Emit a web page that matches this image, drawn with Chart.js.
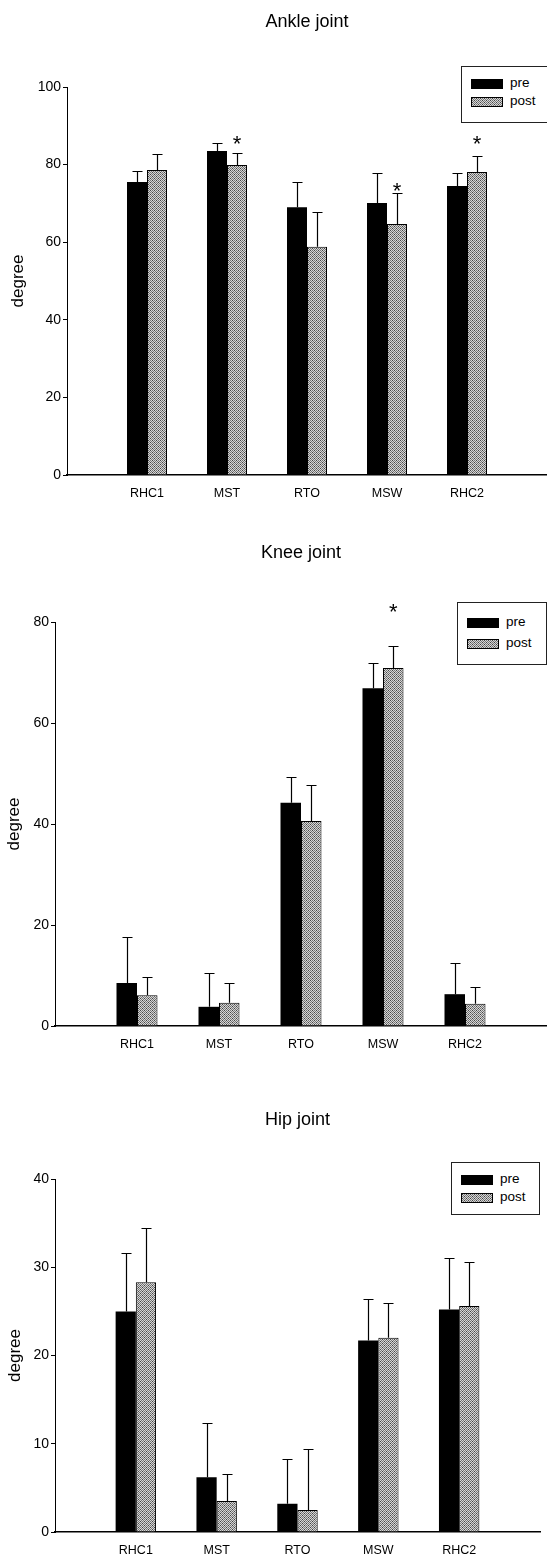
<!DOCTYPE html>
<html lang="en">
<head>
<meta charset="UTF-8">
<title>Ankle, knee and hip joint angles</title>
<script src="https://cdn.jsdelivr.net/npm/chart.js@4.4.0/dist/chart.umd.min.js"></script>
<style>
  body { margin: 0; background: #fff; font-family: "Liberation Sans", Arial, sans-serif; }
  #page { position: relative; width: 547px; height: 1555px; overflow: hidden; }
  .panel { position: absolute; left: 0; width: 547px; }
  .legend { position: absolute; border: 1px solid #222; background: #fff; color: #000; font-size: 13.5px; }
  .legend .sw { position: absolute; left: 9px; width: 32px; height: 10px; box-sizing: border-box; }
  .legend .lb { position: absolute; left: 48px; line-height: 14px; }
</style>
</head>
<body>
<div id="page">
  <div class="panel" style="top:0;height:510px"><canvas id="ankle" width="547" height="510"></canvas></div>
  <div class="panel" style="top:510px;height:555px"><canvas id="knee" width="547" height="555"></canvas></div>
  <div class="panel" style="top:1065px;height:490px"><canvas id="hip" width="547" height="490"></canvas></div>
</div>

<script>
// ---- data ----
const categories = ['RHC1', 'MST', 'RTO', 'MSW', 'RHC2'];
const seriesNames = ['pre', 'post'];

const anklePre = [75.5, 83.5, 69.0, 70.1, 74.5];
const anklePreSD = [2.8, 2.1, 6.5, 7.7, 3.3];
const anklePost = [78.6, 79.9, 58.8, 64.7, 78.1];
const anklePostSD = [4.1, 3.1, 9.0, 8.0, 4.1];
const ankleStars = [null, 86.3, null, 74.2, 86.3];   // asterisks over post bars
const ankleTicks = [0, 20, 40, 60, 80, 100];

const kneePre = [8.5, 3.8, 44.2, 66.9, 6.3];
const kneePreSD = [9.1, 6.7, 5.1, 5.0, 6.2];
const kneePost = [6.1, 4.6, 40.6, 70.9, 4.4];
const kneePostSD = [3.6, 3.9, 7.1, 4.3, 3.3];
const kneeStars = [null, null, null, 82.8, null];
const kneeTicks = [0, 20, 40, 60, 80];

const hipPre = [25.0, 6.2, 3.2, 21.7, 25.2];
const hipPreSD = [6.6, 6.2, 5.1, 4.7, 5.9];
const hipPost = [28.3, 3.5, 2.5, 22.0, 25.6];
const hipPostSD = [6.1, 3.1, 6.9, 3.9, 5.0];
const hipStars = [null, null, null, null, null];
const hipTicks = [0, 10, 20, 30, 40];

const FONT = '"Liberation Sans", Arial, sans-serif';

// empty slot at each end of the x axis, like the original plot
const pad = arr => [null, ...arr, null];
const xLabels = pad(categories).map(v => v || '');

// dotted grey fill used for the "post" bars
function makeHatch() {
    const c = document.createElement('canvas');
    c.width = 4; c.height = 4;
    const g = c.getContext('2d');
    for (let y = 0; y < 4; y++) {
        for (let x = 0; x < 4; x++) {
            g.fillStyle = (x + y) % 2 === 0 ? '#767676' : '#d6d6d6';
            g.fillRect(x, y, 1, 1);
        }
    }
    g.fillStyle = '#444';
    g.fillRect(0, 0, 1, 1);
    g.fillRect(2, 2, 1, 1);
    return c;
}
const hatchCanvas = makeHatch();
const hatch = document.createElement('canvas').getContext('2d').createPattern(hatchCanvas, 'repeat');

// error bars (upper only) + significance asterisks
const errorBars = {
    id: 'errorBars',
    afterDatasetsDraw(chart) {
        const ctx = chart.ctx;
        const y = chart.scales.y;
        ctx.save();
        ctx.strokeStyle = '#000';
        ctx.lineWidth = 1.2;
        chart.data.datasets.forEach((ds, i) => {
            chart.getDatasetMeta(i).data.forEach((bar, j) => {
                const sd = ds.sd[j];
                if (sd == null || ds.data[j] == null) return;
                const top = Math.round(y.getPixelForValue(ds.data[j] + sd)) + 0.5;
                const x = Math.round(bar.x) + 0.5;
                ctx.beginPath();
                ctx.moveTo(x, bar.y);
                ctx.lineTo(x, top);
                ctx.moveTo(x - 5, top);
                ctx.lineTo(x + 5, top);
                ctx.stroke();
            });
            if (!ds.stars) return;
            ctx.fillStyle = '#000';
            ctx.font = '22px ' + FONT;
            ctx.textAlign = 'center';
            ctx.textBaseline = 'alphabetic';
            const m = ctx.measureText('*');
            chart.getDatasetMeta(i).data.forEach((bar, j) => {
                const s = ds.stars[j];
                if (s == null) return;
                const cy = y.getPixelForValue(s);
                ctx.fillText('*', bar.x, cy + (m.actualBoundingBoxAscent - m.actualBoundingBoxDescent) / 2);
            });
        });
        ctx.restore();
    }
};

// centre the title over the plot area rather than the whole canvas
const titleOverPlot = {
    id: 'titleOverPlot',
    afterLayout(chart) {
        const t = chart.titleBlock;
        if (t) {
            t.left = chart.chartArea.left;
            t.right = chart.chartArea.right;
        }
    }
};

function makeChart(id, cfg) {
    const ctx = document.getElementById(id).getContext('2d');
    return new Chart(ctx, {
        type: 'bar',
        data: {
            labels: xLabels,
            datasets: [{
                label: seriesNames[0],
                data: pad(cfg.pre),
                sd: pad(cfg.preSD),
                backgroundColor: '#000',
                borderColor: '#000',
                borderWidth: 0
            }, {
                label: seriesNames[1],
                data: pad(cfg.post),
                sd: pad(cfg.postSD),
                stars: pad(cfg.stars),
                backgroundColor: hatch,
                borderColor: '#000',
                borderWidth: 1
            }]
        },
        options: {
            responsive: false,
            animation: false,
            events: [],
            categoryPercentage: 0.5,
            barPercentage: 1.0,
            layout: { padding: { left: 0, right: cfg.rightPad, top: 0, bottom: 0 } },
            plugins: {
                legend: { display: false },
                tooltip: { enabled: false },
                title: {
                    display: true,
                    text: cfg.title,
                    color: '#000',
                    font: { family: FONT, size: 18, weight: 'normal', lineHeight: 1.2 },
                    padding: { top: cfg.titleTop, bottom: cfg.titleBottom }
                }
            },
            scales: {
                x: {
                    offset: false,
                    // invisible tick marks give the gap between axis and labels
                    grid: { display: true, drawOnChartArea: false, drawTicks: true, tickLength: 11, color: 'rgba(0,0,0,0)' },
                    border: { display: true, color: '#000', width: 1.5 },
                    ticks: {
                        autoSkip: false, maxRotation: 0, padding: 0,
                        color: '#000', font: { family: FONT, size: 12.5 }
                    },
                    afterFit(scale) { scale.height = cfg.xHeight; }
                },
                y: {
                    min: 0,
                    max: cfg.ticks[cfg.ticks.length - 1],
                    afterBuildTicks(scale) { scale.ticks = cfg.ticks.map(v => ({ value: v })); },
                    grid: { drawOnChartArea: false, tickLength: 4, color: '#000', lineWidth: 1 },
                    border: { display: true, color: '#000', width: 1 },
                    ticks: { padding: 2, color: '#000', font: { family: FONT, size: 14 } },
                    title: {
                        display: true,
                        text: 'degree',
                        color: '#000',
                        font: { family: FONT, size: 17, lineHeight: 1.2 },
                        padding: { top: cfg.degreePad, bottom: 0 }
                    },
                    afterFit(scale) { scale.width = cfg.yWidth; }
                }
            }
        },
        plugins: [errorBars, titleOverPlot]
    });
}

function addLegend(chart, box) {
    const page = document.getElementById('page');
    const div = document.createElement('div');
    div.className = 'legend';
    div.style.left = box.left + 'px';
    div.style.top = box.top + 'px';
    div.style.width = box.width + 'px';
    div.style.height = box.height + 'px';
    chart.data.datasets.forEach((ds, i) => {
        const top = box.rowTop + i * box.rowGap;
        const sw = document.createElement('div');
        sw.className = 'sw';
        sw.style.top = top + 'px';
        if (i === 0) {
            sw.style.background = '#000';
        } else {
            sw.style.backgroundImage = 'url(' + hatchCanvas.toDataURL() + ')';
            sw.style.border = '1px solid #000';
        }
        const lb = document.createElement('div');
        lb.className = 'lb';
        lb.style.top = (top - 3) + 'px';
        lb.textContent = ds.label;
        div.appendChild(sw);
        div.appendChild(lb);
    });
    page.appendChild(div);
}

const ankleChart = makeChart('ankle', {
    title: 'Ankle joint', pre: anklePre, preSD: anklePreSD, post: anklePost, postSD: anklePostSD,
    stars: ankleStars, ticks: ankleTicks,
    titleTop: 11, titleBottom: 54.4, xHeight: 35, yWidth: 67, degreePad: 8, rightPad: 0
});
const kneeChart = makeChart('knee', {
    title: 'Knee joint', pre: kneePre, preSD: kneePreSD, post: kneePost, postSD: kneePostSD,
    stars: kneeStars, ticks: kneeTicks,
    titleTop: 32.2, titleBottom: 58.2, xHeight: 39, yWidth: 55, degreePad: 4, rightPad: 0
});
const hipChart = makeChart('hip', {
    title: 'Hip joint', pre: hipPre, preSD: hipPreSD, post: hipPost, postSD: hipPostSD,
    stars: hipStars, ticks: hipTicks,
    titleTop: 44.2, titleBottom: 48.2, xHeight: 23, yWidth: 55, degreePad: 5, rightPad: 7
});

addLegend(ankleChart, { left: 461, top: 66, width: 92, height: 55, rowTop: 12, rowGap: 18 });
addLegend(kneeChart, { left: 457, top: 602, width: 88, height: 61, rowTop: 15, rowGap: 21 });
addLegend(hipChart, { left: 451, top: 1162, width: 87, height: 51, rowTop: 12, rowGap: 18 });
</script>
</body>
</html>
